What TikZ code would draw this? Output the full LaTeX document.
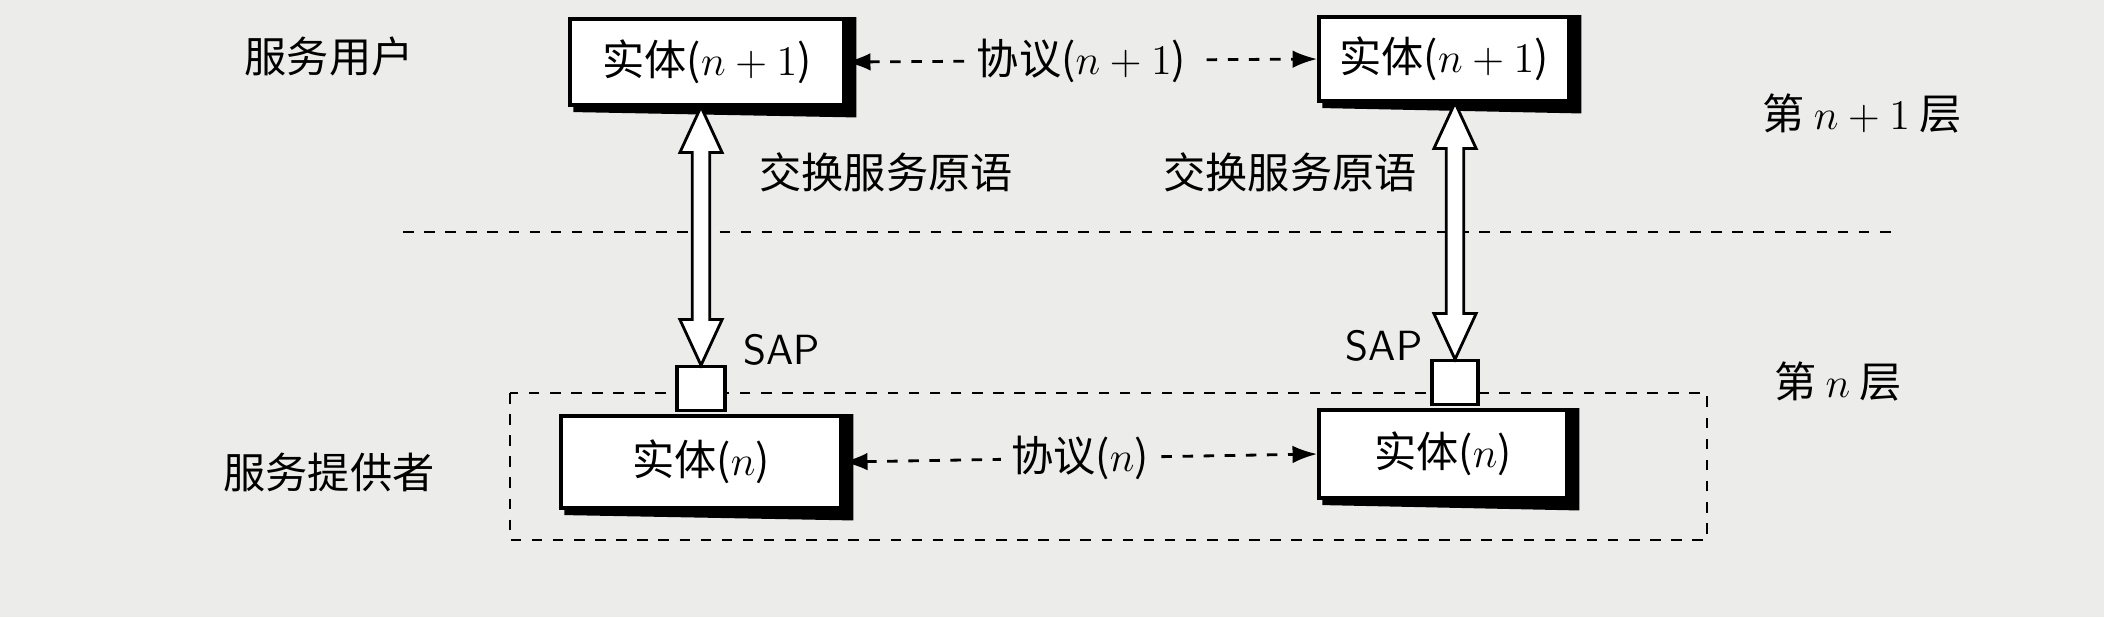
\documentclass[tikz,border=0pt]{standalone}
\usepackage{fontspec}
\newfontfamily\cjk{Noto Sans CJK SC}
\usetikzlibrary{arrows.meta,calc}
\newcommand\dblarr[2]{\draw[line width=0.8pt,fill=white,line join=miter]
  let \p1=(#1), \p2=(#2) in
  (\x2,\y1) -- (\x2+6pt,\y1-13pt) -- (\x2+2.5pt,\y1-13pt) -- (\x2+2.5pt,\y2+13pt) -- (\x2+6pt,\y2+13pt)
  -- (\x2,\y2) -- (\x2-6pt,\y2+13pt) -- (\x2-2.5pt,\y2+13pt) -- (\x2-2.5pt,\y1-13pt) -- (\x2-6pt,\y1-13pt) -- cycle;}
\begin{document}
\begin{tikzpicture}[x=0.01cm,y=-0.01cm,
  font=\fontsize{12}{14}\selectfont\cjk,
  ent/.style={draw,line width=1pt,fill=white,inner sep=0pt,
    append after command={\pgfextra{\draw[line width=3pt]
      ([xshift=1.5pt]\tikzlastnode.south west) -- ([xshift=1.5pt,yshift=-1.5pt]\tikzlastnode.south east) -- ([xshift=1.5pt]\tikzlastnode.north east);}}},
  dsh/.style={dashed,line width=0.8pt,{Latex[length=7pt,width=5pt]}-{Latex[length=7pt,width=5pt]}},
  lbl/.style={fill=bgc,inner sep=3pt}]
\definecolor{bgc}{RGB}{236,236,234}
\fill[bgc] (0,0) rectangle (2104,617);
\useasboundingbox (0,0) rectangle (2104,617);
% dashed divider and provider box
\draw[dashed,line width=0.8pt] (403,232) -- (1892,232);
\draw[dashed,line width=0.8pt] (510,393) rectangle (1707,540);
% entities
\node[ent,minimum width=2.74cm,minimum height=0.86cm] (e1) at (707,62) {实体($n+1$)};
\node[ent,minimum width=2.50cm,minimum height=0.84cm] (e2) at (1444,59) {实体($n+1$)};
\node[ent,minimum width=2.80cm,minimum height=0.92cm] (e3) at (701,462) {实体($n$)};
\node[ent,minimum width=2.48cm,minimum height=0.88cm] (e4) at (1443,454) {实体($n$)};
% SAP squares
\node[draw,line width=0.9pt,fill=white,minimum width=0.48cm,minimum height=0.44cm,inner sep=0pt,anchor=south] (s1) at ([yshift=0.5pt]e3.north) {};
\node[draw,line width=0.9pt,fill=white,minimum width=0.46cm,minimum height=0.44cm,inner sep=0pt,anchor=south] (s2) at ([xshift=0.12cm,yshift=0.5pt]e4.north) {};
\node (sap1) at (782,350) {\sffamily SAP};
\node (sap2) at (1384,346) {\sffamily SAP};
% arrows
\draw[dsh] (e1.east) -- node[lbl] {协议($n+1$)} (e2.west);
\draw[dsh] (e3.east) -- node[lbl] {协议($n$)} (e4.west);
\dblarr{e1.south}{s1.north}
\dblarr{e2.south}{s2.north}
% labels
\node (l1) at (886,172) {交换服务原语};
\node (l2) at (1290,172) {交换服务原语};
\node (u) at (329,56) {服务用户};
\node (p) at (329,472) {服务提供者};
\node (n1) at (1862,114) {第 $n+1$ 层};
\node (n0) at (1838,382) {第 $n$ 层};
\end{tikzpicture}
\end{document}
